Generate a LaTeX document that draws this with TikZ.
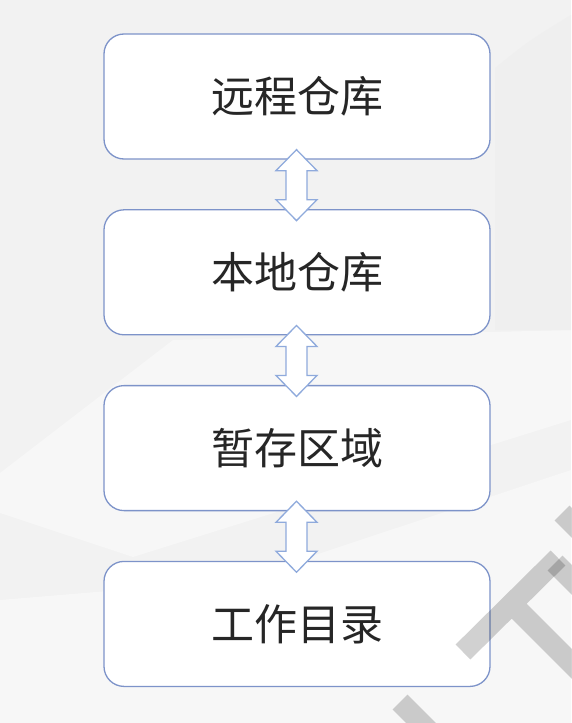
\documentclass[tikz,border=0pt]{standalone}
\usepackage{fontspec}
\newfontfamily\cjk{Noto Sans CJK SC}
\usepackage{tikz}
\usetikzlibrary{calc}
\usetikzlibrary{positioning}

\definecolor{bgray}{HTML}{F2F2F2}
\definecolor{bglight}{HTML}{F7F7F7}
\definecolor{bgdark}{HTML}{EFEFEF}
\definecolor{boxline}{HTML}{7D93C9}
\definecolor{arrline}{HTML}{8FAADC}
\definecolor{txt}{HTML}{262626}

\begin{document}
\begin{tikzpicture}[
    x=1pt, y=-1pt,
    area/.style={
        draw=boxline,
        fill=white,
        line width=1.3pt,
        rounded corners=20pt,
        minimum width=386pt,
        minimum height=125pt,
        inner sep=0pt,
        font=\cjk\fontsize{43}{43}\selectfont,
        text=txt
    },
    dblarrow/.style={draw=arrline,fill=white,line width=1.3pt,line join=miter},
    mark bar/.style={line width=21pt,black,opacity=0.18},
    node distance=49.5pt
]
  \useasboundingbox (0,0) rectangle (571,723);
  \fill[bgray] (0,0) rectangle (571,723);
  % faint background facets
  \fill[bglight] (0,473) -- (173,340) -- (571,330) -- (571,420) -- (133,557) -- (0,513) -- cycle;
  \fill[bgdark] (495,68) .. controls (530,40) .. (571,15) -- (571,330) -- (495,330) -- cycle;
  \fill[bglight] (0,600) -- (240,580) -- (571,470) -- (571,723) -- (0,723) -- cycle;

  \node[area] at (297,96.5) (remote) {远程仓库};
  \node[area,below=of remote] (local) {本地仓库};
  \node[area,below=of local] (stage) {暂存区域};
  \node[area,below=of stage] (work) {工作目录};

  \foreach \Top/\Bottom in {remote/local,local/stage,stage/work} {
    \draw[dblarrow] ($(\Top.south)+(-0.5,-10)$) -- ++(20.5,21) -- ++(-10,0) -- ++(0,29)
      -- ++(10,0) -- ++(-20.5,21) -- ++(-20.5,-21) -- ++(10,0) -- ++(0,-29)
      -- ++(-10,0) -- cycle;
  }

  % watermark
  \draw[mark bar] (463,652) -- (558,558) (519,611) -- (600,692)
    (562,513) -- (590,541) (400,702) -- (440,742);
  \draw[mark bar] (555,563) -- (585,593);
\end{tikzpicture}
\end{document}
